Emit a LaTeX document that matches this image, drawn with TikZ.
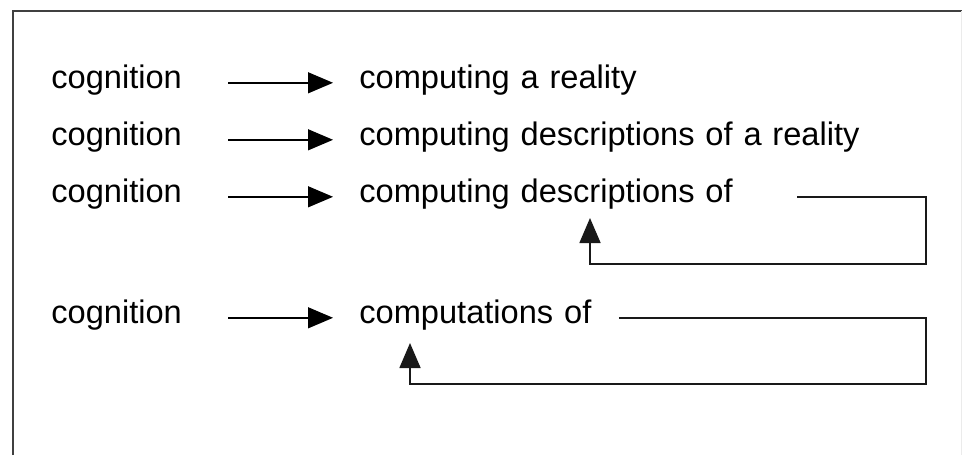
\documentclass[tikz,border=0pt]{standalone}
\usepackage{fontspec}
\setmainfont[WordSpace=1.2]{Liberation Sans}
\usetikzlibrary{arrows.meta,positioning}

\begin{document}
\begin{tikzpicture}[x=0.5pt,y=-0.5pt,>=Triangle,
  font=\fontsize{16.3}{19}\selectfont]
\tikzset{
  word/.style={inner sep=0pt,anchor=base west,text height=0.52em,text depth=0pt},
  flow/.style={-{Triangle[length=12.5pt,width=10.5pt]},line width=0.7pt,
    shorten <=23pt,shorten >=13pt},
  back/.style={-{Triangle[length=12.5pt,width=10.5pt]},line width=0.8pt,
    black!90},
  frame/.style={line width=1pt,black!75}
}
\useasboundingbox (0,0) rectangle (962,455);
\draw[frame] (13,455) -- (13,11) -- (962,11);
\draw[black!8] (961,11) -- (961,455);

% left column
\node[word] (cog1) at (51,88) {cognition};
\node[word] (cog2) at (51,145) {cognition};
\node[word] (cog3) at (51,202) {cognition};
\node[word] (cog4) at (51,323) {cognition};

% right column
\node[word] (comp1) at (359,88) {computing a reality};
\node[word] (comp2) at (359,145) {computing descriptions of a reality};
\node[word] (comp3) at (359,202) {computing descriptions of};
\node[word] (comp4) at (359,323) {computations of};

\draw[flow] (cog1) -- (comp1);
\draw[flow] (cog2) -- (comp2);
\draw[flow] (cog3) -- (comp3);
\draw[flow] (cog4) -- (comp4);

% feedback loops
\coordinate (turn3) at (926,264);
\coordinate (in3) at (590,218);
\draw[back,shorten <=32pt] (comp3.east) -| (turn3) -| (in3);

\coordinate (turn4) at (926,384);
\coordinate (in4) at (410,343);
\draw[back,shorten <=13.5pt] (comp4.east) -| (turn4) -| (in4);
\end{tikzpicture}
\end{document}
